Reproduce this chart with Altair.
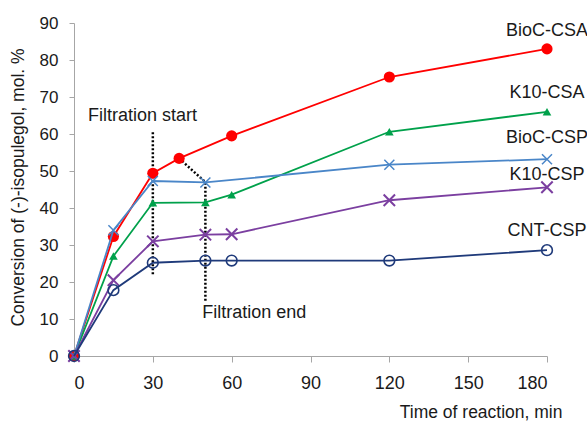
import altair as alt
import pandas as pd

# ---- data ----
series_names = ["BioC-CSA", "K10-CSA", "BioC-CSP", "K10-CSP", "CNT-CSP"]
bioc_csa_x = [0, 15, 30, 40, 60, 120, 180]
bioc_csa_y = [0, 32.3, 49.4, 53.4, 59.5, 75.4, 83.0]
k10_csa_x = [0, 15, 30, 50, 60, 120, 180]
k10_csa_y = [0, 27.0, 41.4, 41.5, 43.6, 60.6, 66.0]
bioc_csp_x = [0, 15, 30, 50, 120, 180]
bioc_csp_y = [0, 34.0, 47.3, 46.9, 51.7, 53.2]
k10_csp_x = [0, 15, 30, 50, 60, 120, 180]
k10_csp_y = [0, 20.5, 31.0, 32.8, 32.9, 42.1, 45.6]
cnt_csp_x = [0, 15, 30, 50, 60, 120, 180]
cnt_csp_y = [0, 17.8, 25.2, 25.8, 25.8, 25.8, 28.6]

label_y = [87.8, 71.0, 58.8, 49.0, 33.8]

filt_start_x = [30, 30]
filt_start_y = [60.5, 22.0]
filt_end_x = [40, 50, 50]
filt_end_y = [53.4, 47.0, 14.5]

x_ticks = [0, 30, 60, 90, 120, 150, 180]
y_ticks = [0, 10, 20, 30, 40, 50, 60, 70, 80, 90]

colors = ["#ff0000", "#00a14b", "#4a86c8", "#7b3fa0", "#1f3a7a"]
FONT = "Liberation Sans"
XMARK = "M-1,-1L1,1M-1,1L1,-1"
TXT = "#1a1a1a"

xs = [bioc_csa_x, k10_csa_x, bioc_csp_x, k10_csp_x, cnt_csp_x]
ys = [bioc_csa_y, k10_csa_y, bioc_csp_y, k10_csp_y, cnt_csp_y]

xscale = alt.Scale(domain=[0, 180], nice=False)
yscale = alt.Scale(domain=[0, 90], nice=False)

xaxis = alt.Axis(values=x_ticks, grid=False, domainColor="#a6a6a6", tickColor="#a6a6a6",
                 tickSize=6, labelFont=FONT, labelFontSize=18, labelColor=TXT,
                 labelPadding=12, labelOverlap=False, title="Time of reaction, min",
                 titleFont=FONT, titleFontSize=17.5, titleFontWeight="normal", titleColor=TXT,
                 titleAnchor="end", titleAlign="right", titleX=488, titleY=56,
                 titleBaseline="middle")
yaxis = alt.Axis(values=y_ticks, tickCount=10, grid=False, domainColor="#a6a6a6",
                 tickColor="#a6a6a6", tickSize=5, labelFont=FONT, labelFontSize=17,
                 labelColor=TXT, labelPadding=11, labelOverlap=False,
                 labelBound=False, labelFlush=False,
                 title="Conversion of (-)-isopulegol, mol. %", titleFont=FONT,
                 titleFontSize=17.5, titleFontWeight="normal", titleColor=TXT,
                 titleX=-56, titleY=164, titleAngle=-90, titleBaseline="middle",
                 titleAnchor="middle")

X = alt.X("x:Q", scale=xscale, axis=xaxis)
Y = alt.Y("y:Q", scale=yscale, axis=yaxis)

layers = []

# dotted filtration lines
fl = pd.DataFrame({
    "x": filt_start_x + filt_end_x,
    "y": filt_start_y + filt_end_y,
    "g": ["s"] * len(filt_start_x) + ["e"] * len(filt_end_x),
    "o": list(range(len(filt_start_x))) + list(range(len(filt_end_x))),
})
layers.append(
    alt.Chart(fl).mark_line(color="#000000", strokeWidth=2.5, strokeDash=[2, 2]).encode(
        x=X, y=Y, detail="g:N", order="o:Q")
)

marks = [
    dict(shape="circle", filled=True, size=125, strokeWidth=0),
    dict(shape="triangle-up", filled=True, size=75, strokeWidth=0),
    dict(shape=XMARK, filled=False, size=100, strokeWidth=1.5),
    dict(shape=XMARK, filled=False, size=130, strokeWidth=2),
    dict(shape="circle", filled=False, size=115, strokeWidth=1.6),
]

for name, x, y, c, m in zip(series_names, xs, ys, colors, marks):
    df = pd.DataFrame({"x": x, "y": y})
    base = alt.Chart(df).encode(x=X, y=Y)
    layers.append(base.mark_line(color=c, strokeWidth=1.8))
    if m["filled"]:
        layers.append(base.mark_point(shape=m["shape"], filled=True, fill=c, size=m["size"],
                                      opacity=1, strokeWidth=0))
    else:
        layers.append(base.mark_point(shape=m["shape"], filled=False, stroke=c, size=m["size"],
                                      opacity=1, strokeWidth=m["strokeWidth"]))

lab = pd.DataFrame({"x": [180] * 5, "y": label_y, "t": series_names})
layers.append(
    alt.Chart(lab).mark_text(font=FONT, fontSize=18, color=TXT, align="center",
                             baseline="middle").encode(x=X, y=Y, text="t:N")
)

ann = pd.DataFrame({"x": [5.3, 48.8], "y": [64.8, 11.6], "t": ["Filtration start", "Filtration end"]})
layers.append(
    alt.Chart(ann).mark_text(font=FONT, fontSize=18, color=TXT, align="left",
                             baseline="middle").encode(x=X, y=Y, text="t:N")
)

chart = alt.layer(*layers).properties(
    width=473, height=333,
    autosize=alt.AutoSizeParams(type="none"),
    padding={"left": 74, "top": 23, "right": 40, "bottom": 66},
    background="white",
).configure_view(stroke=None)

chart.save("out.html", embed_options={"renderer": "svg", "actions": False})
